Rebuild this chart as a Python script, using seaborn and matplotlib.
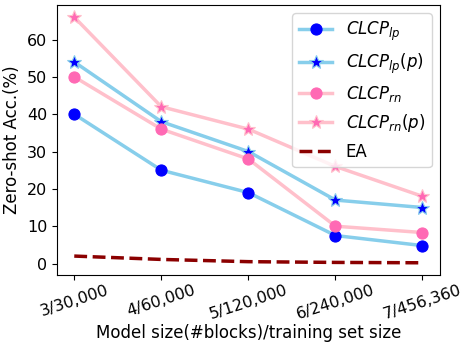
import matplotlib
matplotlib.use("Agg")
import matplotlib.pyplot as plt
import seaborn as sns
import pandas as pd

categories = ["3/30,000", "4/60,000", "5/120,000", "6/240,000", "7/456,360"]
clcp_lp = [40, 25, 19, 7.5, 4.8]
clcp_lp_p = [54, 38, 30, 17, 15]
clcp_rn = [50, 36, 28, 10, 8.3]
clcp_rn_p = [66, 42, 36, 26, 18]
ea = [2.0, 1.1, 0.5, 0.3, 0.2]

fig, ax = plt.subplots(figsize=(4.66, 3.46), dpi=100)

series = [
    (clcp_lp, r"$CLCP_{lp}$", "skyblue", "blue", "blue", "o", 8),
    (clcp_lp_p, r"$CLCP_{lp}(p)$", "skyblue", "blue", "skyblue", "*", 10),
    (clcp_rn, r"$CLCP_{rn}$", "pink", "hotpink", "hotpink", "o", 8),
    (clcp_rn_p, r"$CLCP_{rn}(p)$", "pink", "hotpink", "pink", "*", 10),
]
for vals, lab, lc, mc, ec, mk, ms in series:
    df = pd.DataFrame({"x": categories, "y": vals})
    sns.lineplot(data=df, x="x", y="y", ax=ax, sort=False, color=lc, lw=2.5,
                 marker=mk, markersize=ms, markerfacecolor=mc, markeredgecolor=ec,
                 markeredgewidth=0.8, label=lab)

df = pd.DataFrame({"x": categories, "y": ea})
sns.lineplot(data=df, x="x", y="y", ax=ax, sort=False, color="darkred", lw=2.5,
             linestyle="--", label="EA")

ax.set_xlabel("Model size(#blocks)/training set size", fontsize=12, labelpad=1)
ax.set_ylabel("Zero-shot Acc.(%)", fontsize=12)
ax.tick_params(axis="both", labelsize=11.5)
ax.tick_params(axis="x", pad=2)
ax.set_yticks([0, 10, 20, 30, 40, 50, 60])
plt.setp(ax.get_xticklabels(), rotation=18)
ax.legend(loc="upper right", fontsize=12, handlelength=2.0)

fig.subplots_adjust(left=0.122, right=0.944, top=0.986, bottom=0.205)
fig.savefig("out.png", dpi=100)
